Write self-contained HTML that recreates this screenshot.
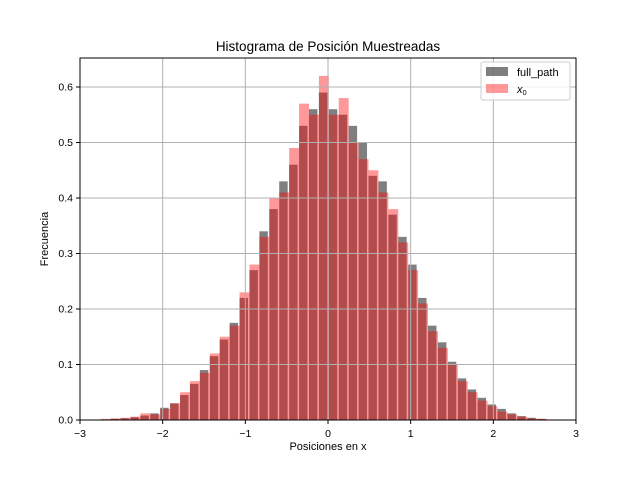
<!DOCTYPE html>
<html><head><meta charset="utf-8"><style>
body{margin:0;background:#fff;font-family:"Liberation Sans",sans-serif}
svg text{font-family:"Liberation Sans",sans-serif}
</style></head><body>
<svg id="c" width="640" height="480" xmlns="http://www.w3.org/2000/svg"></svg>
<script>
const binStart = -2.75;
const binWidth = 0.12;
const redValues = [0.002,0.003,0.004,0.006,0.012,0.01,0.02,0.03,0.05,0.07,0.085,0.12,0.15,0.17,0.23,0.28,0.33,0.40,0.41,0.49,0.57,0.55,0.62,0.55,0.58,0.50,0.47,0.45,0.41,0.38,0.32,0.27,0.21,0.16,0.13,0.10,0.07,0.05,0.035,0.025,0.015,0.01,0.006,0.003,0.002];
const grayValues = [0.001,0.002,0.003,0.005,0.008,0.012,0.022,0.03,0.045,0.065,0.09,0.115,0.145,0.175,0.22,0.27,0.34,0.38,0.43,0.46,0.53,0.56,0.59,0.56,0.55,0.53,0.50,0.44,0.43,0.37,0.33,0.28,0.22,0.17,0.14,0.105,0.075,0.055,0.04,0.028,0.02,0.012,0.007,0.004,0.002];
const xTicks = [-3,-2,-1,0,1,2,3];
const yTicks = [0.0,0.1,0.2,0.3,0.4,0.5,0.6];
const L=80,R=576,T=58,B=420;
const xs=v=>L+(v+3)/6*(R-L);
const ys=v=>B-v*555;
const svg=document.getElementById('c');
const NS='http://www.w3.org/2000/svg';
function mk(tag,attrs,parent){const e=document.createElementNS(NS,tag);for(const k in attrs)e.setAttribute(k,attrs[k]);(parent||svg).appendChild(e);return e;}
const gBars=mk('g',{});


grayValues.forEach((v,i)=>{const x0=binStart+i*binWidth;
 const r=mk('rect',{x:xs(x0),y:ys(v),width:xs(x0+binWidth*0.85)-xs(x0),height:B-ys(v),fill:'rgba(0,0,0,0.5)'},gBars);
 
 });
redValues.forEach((v,i)=>{const x0=binStart+i*binWidth;
 const r=mk('rect',{x:xs(x0),y:ys(v),width:xs(x0+binWidth)-xs(x0),height:B-ys(v),fill:'rgba(255,0,0,0.4)'},gBars);
 
 });
xTicks.forEach(t=>{const x=xs(t);
 const g=mk('line',{x1:x,x2:x,y1:T,y2:B,stroke:'#b0b0b0','stroke-width':1});
 
 
 mk('line',{x1:x,x2:x,y1:B,y2:B+4,stroke:'#000'});
 const tx=mk('text',{x:x,y:B+17,'font-size':10.5,'text-anchor':'middle'});tx.textContent=(t<0?'\u2212'+(-t):t);
 
 });
yTicks.forEach(t=>{const y=ys(t);
 const g=mk('line',{x1:L,x2:R,y1:y,y2:y,stroke:'#b0b0b0','stroke-width':1});
 
 
 mk('line',{x1:L-4,x2:L,y1:y,y2:y,stroke:'#000'});
 const tx=mk('text',{x:L-7,y:y+3.5,'font-size':10.5,'text-anchor':'end'});tx.textContent=t.toFixed(1);
 
 });
const frame=mk('rect',{x:L,y:T,width:R-L,height:B-T,fill:'none',stroke:'#000','stroke-width':1});


</script>
<svg style="position:absolute;left:0;top:0" width="640" height="480" xmlns="http://www.w3.org/2000/svg">
<text x="328" y="51" font-size="13.5" text-anchor="middle">Histograma de Posición Muestreadas</text>
<text x="328" y="450" font-size="11" text-anchor="middle">Posiciones en x</text>
<text x="48" y="239" font-size="11" text-anchor="middle" transform="rotate(-90 48 239)">Frecuencia</text>
<g>
<rect x="481" y="62" width="89" height="38" rx="2" fill="#fff" fill-opacity="0.8" stroke="#ccc"/>
<rect x="486" y="67" width="22" height="9" fill="rgba(0,0,0,0.5)"/>
<text x="517" y="76" font-size="11">full_path</text>
<rect x="486" y="84" width="22" height="9" fill="rgba(255,0,0,0.4)"/>
<text x="517" y="93" font-size="11" font-style="italic">x<tspan font-size="7.5" dy="2" font-style="normal">0</tspan></text>
</g>
</svg>
</body></html>
